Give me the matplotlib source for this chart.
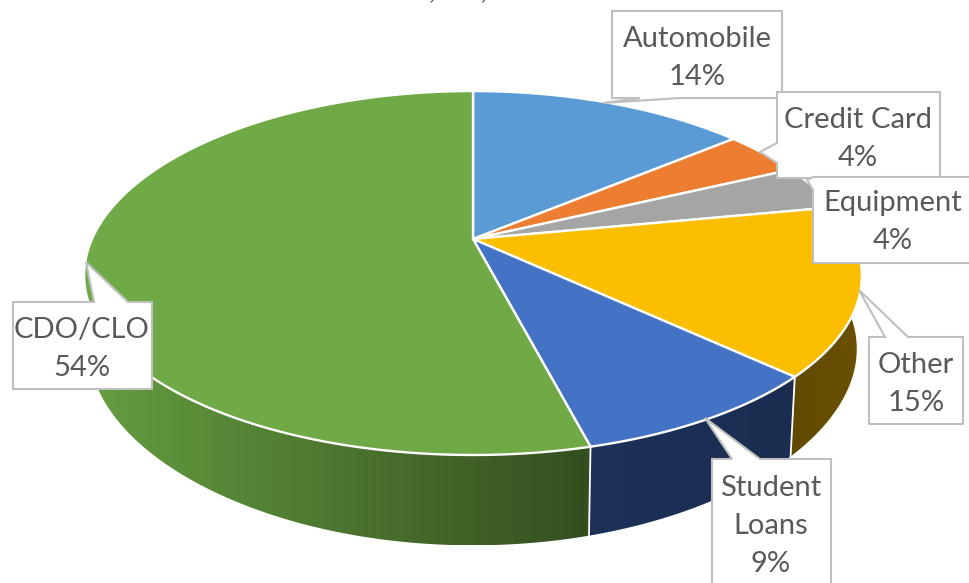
#!/usr/bin/env python3
import matplotlib
matplotlib.use('Agg')

import matplotlib.pyplot as plt
import numpy as np
from matplotlib.colors import LinearSegmentedColormap
from matplotlib.patches import Polygon

categories = ['Automobile', 'Credit Card', 'Equipment', 'Other', 'Student\nLoans', 'CDO/CLO']
shares = [14, 4, 4, 15, 9, 54]
top_colors = ['#5B9BD5', '#ED7D31', '#A5A5A5', '#FBBE00', '#4472C4', '#6FAA46']
# wall shading per slice (left, right on screen); None = wall hidden at the back
wall_colors = [None, None, None,
               ('#614A00', '#6A5100'),
               ('#1D3259', '#1A2C50'),
               ('#659E40', '#344E1F')]

# pixel layout of the tilted disc, x and y foreshorten by different amounts
CX, CY, BX, AY, KX, KY = 473, 239, 381, 175.6, 0.2, 0.187
FLOOR_CY, FLOOR_BX, FLOOR_AY, FLOOR_KX, FLOOR_KY = 312, 376, 175, 0.2, 0.25

TEXT = '#595959'
BORDER = '#BFBFBF'


def project(t, cx, cy, bx, ay, kx, ky):
    # t is the angle clockwise from 12 o'clock, in fractions of a turn
    u = np.sin(2 * np.pi * t)
    v = np.cos(2 * np.pi * t)
    return np.column_stack((cx + bx * u / (1 + kx * v), cy - ay * v / (1 + ky * v)))


def top_arc(a, b):
    return project(np.linspace(a, b, 200), CX, CY, BX, AY, KX, KY)


def floor_arc(a, b):
    return project(np.linspace(a, b, 200), CX, FLOOR_CY, FLOOR_BX, FLOOR_AY, FLOOR_KX, FLOOR_KY)


fig = plt.figure(figsize=(9.69, 5.83), dpi=100)
ax = fig.add_axes([0, 0, 1, 1])

edges = np.concatenate(([0], np.cumsum(shares))) / sum(shares)

# side walls first, the top surface covers whatever pokes up behind it
for i, shade in enumerate(wall_colors):
    if shade is None:
        continue
    outline = np.vstack((top_arc(edges[i], edges[i + 1]), floor_arc(edges[i], edges[i + 1])[::-1]))
    cmap = LinearSegmentedColormap.from_list(f'wall{i}', list(shade))
    x0, x1 = outline[:, 0].min(), outline[:, 0].max()
    y0, y1 = outline[:, 1].min(), outline[:, 1].max()
    img = ax.imshow(np.linspace(0, 1, 256).reshape(1, -1), cmap=cmap, aspect='auto',
                    extent=(x0, x1, y1, y0), zorder=1)
    clip = Polygon(outline, closed=True, transform=ax.transData, fc='none', ec='none')
    ax.add_patch(clip)
    img.set_clip_path(clip)

# seams between the visible walls
for t in edges[4:6]:
    seam = np.vstack((top_arc(t, t)[0], floor_arc(t, t)[0]))
    ax.plot(seam[:, 0], seam[:, 1], color='white', lw=1.3, zorder=2)

for i, col in enumerate(top_colors):
    arc = top_arc(edges[i], edges[i + 1])
    ax.add_patch(Polygon(np.vstack(([CX, CY], arc)), closed=True, fc=col, ec='white',
                         lw=1.7, joinstyle='round', zorder=3))

# callout boxes: box corners, then the two wedge roots and the tip
callouts = [
    ((612, 11, 782, 98), 'bottom', (640, 680), (603, 103)),
    ((777, 92, 940, 178), 'left', (143, 163), (760, 152)),
    ((813, 177, 980, 263), 'left', (177, 190), (807, 180)),
    ((869, 337, 963, 424), 'top', (885, 908), (859, 290)),
    ((712, 459, 831, 600), 'top', (732, 760), (705, 418)),
    ((13, 302, 152, 389), 'top', (94, 128), (86, 262)),
]
text_centers = [(697, 58), (858, 139), (893, 222), (916, 384), (771, 526), (82, 349)]

for (x0, y0, x1, y1), side, root, tip in callouts:
    if side == 'top':
        pts = [(x0, y0), (root[0], y0), tip, (root[1], y0), (x1, y0), (x1, y1), (x0, y1)]
    elif side == 'bottom':
        pts = [(x0, y0), (x1, y0), (x1, y1), (root[1], y1), tip, (root[0], y1), (x0, y1)]
    else:
        pts = [(x0, y0), (x1, y0), (x1, y1), (x0, y1), (x0, root[1]), tip, (x0, root[0])]
    ax.add_patch(Polygon(pts, closed=True, fc='white', ec=BORDER, lw=1.5,
                         joinstyle='miter', zorder=4))

for name, share, (tx, ty) in zip(categories, shares, text_centers):
    ax.text(tx, ty, f'{name}\n{share}%', ha='center', va='center', color=TEXT,
            family='Lato', fontsize=21, linespacing=1.58, zorder=5)

# bottom of the chart title, cut off by the top edge
ax.text(458.5, -2, ',      ,', ha='center', va='baseline', color=TEXT,
        family='Lato', fontsize=21, zorder=5)

ax.set_xlim(0, 969)
ax.set_ylim(583, 0)
ax.axis('off')
fig.savefig('out.png', dpi=100)
